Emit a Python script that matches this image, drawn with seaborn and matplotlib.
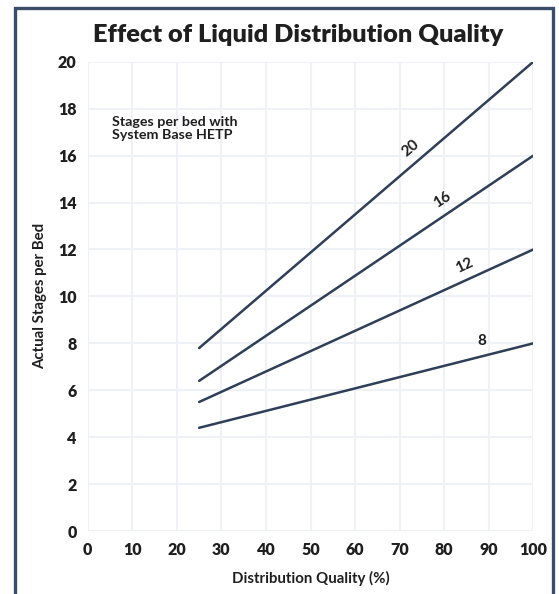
import matplotlib
matplotlib.use("Agg")
import matplotlib.pyplot as plt
import seaborn as sns
import pandas as pd
from matplotlib.patches import Rectangle

# Data
x_quality = [25, 100]
series_names = ["20", "16", "12", "8"]
stages_20 = [7.8, 20.0]
stages_16 = [6.4, 16.0]
stages_12 = [5.5, 12.0]
stages_8 = [4.4, 8.0]
x_ticks = list(range(0, 101, 10))
y_ticks = list(range(0, 21, 2))

label_pos = {"20": (72.5, 16.3, 40), "16": (79.5, 14.1, 33), "12": (84.5, 11.3, 25), "8": (88.5, 8.1, 0)}

rows = []
for name, vals in zip(series_names, [stages_20, stages_16, stages_12, stages_8]):
    for xv, yv in zip(x_quality, vals):
        rows.append({"quality": xv, "stages": yv, "series": name})
df = pd.DataFrame(rows)

sns.set_theme(style="white")
plt.rcParams['font.family'] = ['Lato', 'DejaVu Sans']

line_color = "#2f3f57"
text_color = "#1f1f1f"

fig = plt.figure(figsize=(5.59, 5.94), dpi=100)
ax = fig.add_axes([0.157, 0.106, 0.797, 0.79])

sns.lineplot(data=df, x="quality", y="stages", hue="series",
             palette={n: line_color for n in series_names}, linewidth=1.8,
             legend=False, ax=ax)

ax.set_xlim(0, 100)
ax.set_ylim(0, 20)
ax.set_xticks(x_ticks)
ax.set_yticks(y_ticks)
ax.grid(True, color="#eef2f7", linewidth=1.5)
ax.set_axisbelow(True)
for s in ax.spines.values():
    s.set_visible(False)
ax.tick_params(axis="both", length=4, color="#eef2f7", labelsize=11.5, labelcolor=text_color, pad=4)
for lab in ax.get_xticklabels() + ax.get_yticklabels():
    lab.set_fontweight("heavy")

ax.set_xlabel("Distribution Quality (%)", fontsize=10.8, fontweight="bold", color=text_color, labelpad=9)
ax.set_ylabel("Actual Stages per Bed", fontsize=10.8, fontweight="bold", color=text_color, labelpad=8)

for name in series_names:
    lx, ly, rot = label_pos[name]
    ax.text(lx, ly, name, rotation=rot, ha="center", va="center", fontsize=11,
            fontweight="bold", color=text_color, rotation_mode="anchor")

ax.text(5.4, 17.7, "Stages per bed with\nSystem Base HETP", ha="left", va="top",
        fontsize=10.3, fontweight="bold", color=text_color, linespacing=1.1)

fig.text(0.533, 0.941, "Effect of Liquid Distribution Quality", ha="center", va="center",
         fontsize=18.3, fontweight="heavy", color=text_color)

# frame
fig.patches.append(Rectangle((14.5 / 559, -0.05), (553 - 14.5) / 559, 1 - 7.5 / 594 + 0.05,
                             transform=fig.transFigure, fill=False,
                             edgecolor="#3b4e69", linewidth=2.4, zorder=10))

fig.savefig("out.png", dpi=100)
